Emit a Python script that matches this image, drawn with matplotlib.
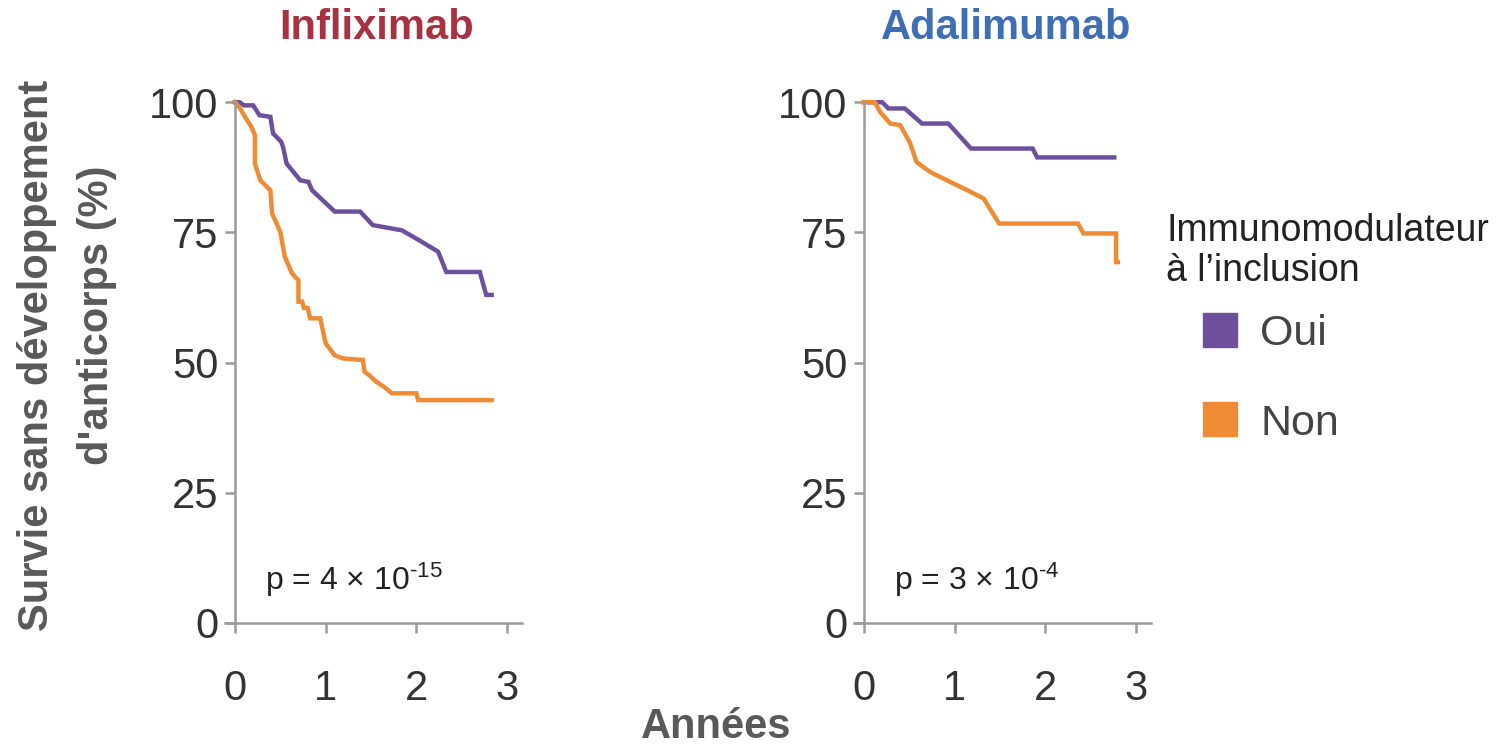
import matplotlib
matplotlib.use("Agg")
import matplotlib.pyplot as plt
from matplotlib.lines import Line2D

plt.rcParams['font.family'] = ['Liberation Sans', 'DejaVu Sans']
plt.rcParams['mathtext.fontset'] = 'custom'
plt.rcParams['mathtext.rm'] = 'Liberation Sans'
plt.rcParams['mathtext.default'] = 'regular'

# //data (years, % free of antibodies)
ifx_oui_t = [0, 0.05, 0.10, 0.20, 0.27, 0.39, 0.42, 0.51, 0.53, 0.57, 0.72, 0.81, 0.85, 1.10, 1.38, 1.52, 1.84, 2.04, 2.24, 2.33, 2.70, 2.77, 2.83]
ifx_oui_s = [100, 100, 99.4, 99.4, 97.5, 97.2, 94.0, 92.4, 91.4, 88.2, 85.0, 84.7, 83.1, 79.0, 79.0, 76.4, 75.4, 73.4, 71.3, 67.4, 67.4, 63.0, 63.0]

ifx_non_t = [0, 0.05, 0.11, 0.18, 0.22, 0.22, 0.28, 0.39, 0.41, 0.50, 0.55, 0.63, 0.70, 0.70, 0.74, 0.76, 0.80, 0.83, 0.94, 0.96, 1.00, 1.10, 1.19, 1.41, 1.43, 1.48, 1.56, 1.64, 1.73, 2.00, 2.02, 2.83]
ifx_non_s = [100, 99.0, 97.2, 95.3, 93.7, 88.2, 85.0, 83.1, 78.6, 75.1, 70.3, 67.1, 65.8, 61.7, 61.7, 60.5, 60.5, 58.5, 58.5, 56.9, 53.7, 51.4, 50.8, 50.5, 48.2, 47.6, 46.3, 45.4, 44.1, 44.1, 42.8, 42.8]

ada_oui_t = [0, 0.20, 0.27, 0.45, 0.64, 0.93, 1.18, 1.86, 1.91, 2.76]
ada_oui_s = [100, 100, 98.8, 98.8, 95.9, 95.9, 91.1, 91.1, 89.4, 89.4]

ada_non_t = [0, 0.12, 0.18, 0.29, 0.40, 0.51, 0.58, 0.73, 0.95, 1.14, 1.32, 1.49, 2.36, 2.42, 2.78, 2.78, 2.80]
ada_non_s = [100, 100, 98.1, 95.9, 95.6, 92.1, 88.5, 86.6, 84.7, 83.1, 81.5, 76.7, 76.7, 74.8, 74.8, 69.3, 69.3]

titles = ["Infliximab", "Adalimumab"]
title_colors = ["#a8323f", "#3e6fb4"]
p_texts = ["p = 4 × 10$^{\\text{-15}}$", "p = 3 × 10$^{\\text{-4}}$"]
groups = ["Oui", "Non"]
col_oui = "#6e4f9e"
col_non = "#ee8b34"
axis_col = "#9a9a9a"

fig = plt.figure(figsize=(15.03, 7.46), dpi=100)
W, H = 1503, 746

panels = [
    (225, (ifx_oui_t, ifx_oui_s), (ifx_non_t, ifx_non_s)),
    (854, (ada_oui_t, ada_oui_s), (ada_non_t, ada_non_s)),
]

for i, (left_px, oui, non) in enumerate(panels):
    ax = fig.add_axes([left_px / W, (H - 623) / H, 297 / W, 526 / H])
    ax.plot(oui[0], oui[1], color=col_oui, lw=3.2, solid_joinstyle='miter')
    ax.plot(non[0], non[1], color=col_non, lw=3.2, solid_joinstyle='miter')
    ax.set_xlim(-0.11, 3.165)
    ax.set_ylim(0, 101)
    ax.set_xticks([0, 1, 2, 3])
    ax.set_yticks([0, 25, 50, 75, 100])
    for s in ['top', 'right']:
        ax.spines[s].set_visible(False)
    ax.spines['left'].set_position(('data', 0))
    ax.spines['left'].set_bounds(0, 100)
    for s in ['left', 'bottom']:
        ax.spines[s].set_color(axis_col)
        ax.spines[s].set_linewidth(1.8)
    ax.tick_params(axis='x', length=7, width=1.8, color=axis_col, pad=26,
                   labelsize=30, labelcolor='#333333')
    ax.tick_params(axis='y', length=7, width=1.8, color=axis_col, pad=5,
                   labelsize=30, labelcolor='#333333')
    ax.patch.set_visible(False)
    ax.text(0.33, 8.3, p_texts[i], fontsize=23, color='#222222', va='center', ha='left')
    fig.text((left_px + 152) / W, 1 - 28 / H, titles[i], color=title_colors[i],
             fontsize=30, fontweight='bold', ha='center', va='center')

# //y label, two lines placed separately (second line sits higher in the reference)
fig.text(37 / W, 1 - 355 / H, "Survie sans développement", rotation=90,
         ha='center', va='center', fontsize=30, fontweight='bold', color='#595959')
fig.text(97 / W, 1 - 315 / H, "d'anticorps (%)", rotation=90,
         ha='center', va='center', fontsize=30, fontweight='bold', color='#595959')
fig.text(716 / W, 1 - 727 / H, "Années", ha='center', va='center',
         fontsize=30, fontweight='bold', color='#595959')

fig.text(1166 / W, 1 - 251 / H, "Immunomodulateur\nà l’inclusion", ha='left',
         va='center', fontsize=27, color='#222222', linespacing=1.12)
handles = [Line2D([], [], marker='s', ls='', ms=25, color=c) for c in (col_oui, col_non)]
leg = fig.legend(handles, groups, loc='upper left', bbox_to_anchor=(1198 / W, 1 - 314 / H),
                 frameon=False, fontsize=31, handlelength=1.0, handletextpad=0.45,
                 labelspacing=1.15, borderpad=0, borderaxespad=0)
for t in leg.get_texts():
    t.set_color('#444444')

fig.savefig("out.png", dpi=100)
